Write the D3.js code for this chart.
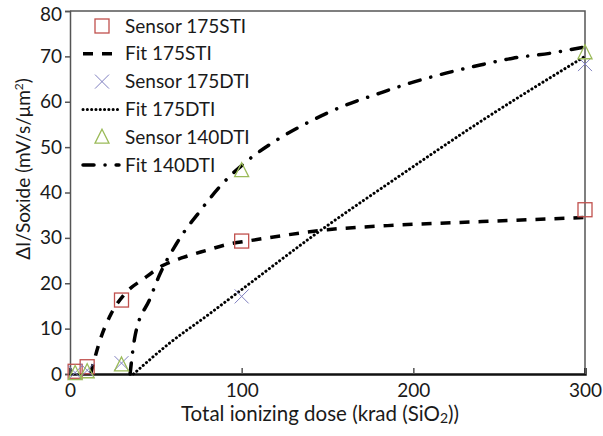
<!DOCTYPE html>
<html>
<head>
<meta charset="utf-8">
<script src="https://cdn.jsdelivr.net/npm/d3@7"></script>
<style>
  body { margin: 0; background: #fff; }
  svg { display: block; }
  text { font-family: Lato, "Noto Sans", sans-serif; fill: #1a1a1a; }
</style>
</head>
<body>
<svg id="chart" width="603" height="436"></svg>
<script>
// Measured sensor points: [dose (krad SiO2), ΔI/Soxide (mV/s/µm²)]
const sensor175STI = [[3, 0.6], [10, 1.6], [30, 16.3], [100, 29.3], [300, 36.2]];
const sensor175DTI = [[3, 0.3], [10, 0.8], [30, 2.4], [100, 17.1], [300, 68.3]];
const sensor140DTI = [[3, 0.1], [10, 0.5], [30, 2.0], [100, 44.8], [300, 70.8]];

// Fitted curves, sampled along each fit
const fit175STI = [[12, 0], [18, 8], [24, 13.3], [32, 17.7], [43, 21], [54, 23.9], [66, 25.7],
  [80, 27.3], [91, 28.5], [105, 29.4], [115, 30], [150, 31.8], [185, 32.7], [240, 33.6], [300, 34.5]];
const fit175DTI = [[37, 0], [58, 6.8], [80, 12.9], [100, 18.6], [144, 31.1],
  [191, 43.4], [239, 55.6], [300, 70]];
const fit140DTI = [[35, 0], [38, 8.6], [46.6, 16.6], [52, 21.7], [62, 28.7], [67, 31.6], [76, 36],
  [80, 38], [89, 42], [103, 46.9], [121, 51.7], [140, 55.7], [159, 59], [180.5, 61.9], [198, 64.1],
  [219, 66.3], [239, 68.1], [258, 69.6], [280, 70.7], [300, 72.1]];

const xTicks = [0, 100, 200, 300];
const yTicks = [0, 10, 20, 30, 40, 50, 60, 70, 80];

const legendNames = ["Sensor 175STI", "Fit 175STI", "Sensor 175DTI", "Fit 175DTI", "Sensor 140DTI", "Fit 140DTI"];

const svg = d3.select("#chart");
const margin = { left: 70, right: 18, top: 11, bottom: 62 };
const W = 603, H = 436;

const x = d3.scaleLinear().domain([0, 300]).range([margin.left, W - margin.right]);
const y = d3.scaleLinear().domain([0, 80]).range([H - margin.bottom, margin.top]);

const red = "#c0504d", purple = "#8080c0", green = "#9bbb59";
const fontSize = 19;

// Plot frame (top and right sides)
svg.append("path")
  .attr("d", `M${x(0)},${y(80)}H${x(300)}V${y(0)}`)
  .attr("fill", "none").attr("stroke", "#555").attr("stroke-width", 1.5);

// Y axis: ticks pointing outward
const yAxis = svg.append("g").attr("transform", `translate(${x(0)},0)`)
  .call(d3.axisLeft(y).tickValues(yTicks).tickSize(5).tickPadding(3).tickFormat(d3.format("d")));
yAxis.select(".domain").attr("stroke", "#555").attr("stroke-width", 1.5);
yAxis.selectAll(".tick line").attr("stroke", "#555").attr("stroke-width", 1.5);
yAxis.selectAll("text").style("font-size", fontSize + "px").style("font-family", "Lato, sans-serif")
  .attr("fill", "#1a1a1a")
  .attr("dy", d => d === 80 ? "0.5em" : "0.32em");

// X axis: ticks pointing inward
const xAxis = svg.append("g").attr("transform", `translate(0,${y(0)})`)
  .call(d3.axisBottom(x).tickValues(xTicks).tickSize(-6).tickPadding(10).tickFormat(d3.format("d")));
xAxis.select(".domain").attr("stroke", "#111").attr("stroke-width", 2.5);
xAxis.selectAll(".tick line").attr("stroke", "#555").attr("stroke-width", 1.5);
xAxis.selectAll("text").style("font-size", fontSize + "px").style("font-family", "Lato, sans-serif").attr("fill", "#1a1a1a");

// Axis titles
const xt = svg.append("text").attr("x", 320).attr("y", 421).attr("text-anchor", "middle")
  .style("font-size", "20.5px");
xt.append("tspan").text("Total ionizing dose (krad (SiO");
xt.append("tspan").text("2").style("font-size", "14px").attr("dy", 2);
xt.append("tspan").text("))").attr("dy", -2);

const yt = svg.append("text").attr("transform", "translate(30,169) rotate(-90)")
  .attr("text-anchor", "middle").style("font-size", fontSize + "px");
yt.append("tspan").text("ΔI/Soxide (mV/s/μm");
yt.append("tspan").text("2").style("font-size", "12px").attr("dy", -7);
yt.append("tspan").text(")").attr("dy", 7);

// Fit lines
const line = d3.line().x(d => x(d[0])).y(d => y(d[1])).curve(d3.curveMonotoneX);
const styles = {
  dash: { dash: "10,9", cap: "butt", w: 3.5 },
  dot: { dash: "0.1,4.2", cap: "round", w: 3 },
  dashdot: { dash: "11,11,0.1,11", cap: "round", w: 3.5 }
};
function drawFit(data, s) {
  svg.append("path").datum(data).attr("d", line)
    .attr("fill", "none").attr("stroke", "#000")
    .attr("stroke-width", s.w).attr("stroke-dasharray", s.dash).attr("stroke-linecap", s.cap);
}
drawFit(fit175STI, styles.dash);
drawFit(fit175DTI, styles.dot);
drawFit(fit140DTI, styles.dashdot);

// Marker shapes
function square(g, cx, cy) {
  g.append("rect").attr("x", cx - 7).attr("y", cy - 7).attr("width", 14).attr("height", 14)
    .attr("fill", "none").attr("stroke", red).attr("stroke-width", 1.3);
}
function cross(g, cx, cy) {
  g.append("path").attr("d", `M${cx - 7},${cy - 7}L${cx + 7},${cy + 7}M${cx - 7},${cy + 7}L${cx + 7},${cy - 7}`)
    .attr("fill", "none").attr("stroke", purple).attr("stroke-width", 1);
}
function triangle(g, cx, cy) {
  g.append("path").attr("d", `M${cx},${cy - 8}L${cx + 7},${cy + 6}L${cx - 7},${cy + 6}Z`)
    .attr("fill", "none").attr("stroke", green).attr("stroke-width", 1.3);
}

const marks = svg.append("g");
sensor175STI.forEach(d => square(marks, x(d[0]), y(d[1])));
sensor175DTI.forEach(d => cross(marks, x(d[0]), y(d[1])));
sensor140DTI.forEach(d => triangle(marks, x(d[0]), y(d[1])));

// Legend
const leg = svg.append("g");
const legY0 = 26, legStep = 27.8, symX = 102, lineX0 = 83, lineX1 = 119, textX = 125;
legendNames.forEach((name, i) => {
  const cy = legY0 + i * legStep;
  if (i === 0) square(leg, symX, cy);
  if (i === 2) cross(leg, symX, cy);
  if (i === 4) triangle(leg, symX, cy);
  if (i === 1 || i === 3 || i === 5) {
    const s = i === 1 ? styles.dash : i === 3 ? styles.dot : styles.dashdot;
    leg.append("line").attr("x1", lineX0).attr("x2", lineX1).attr("y1", cy).attr("y2", cy)
      .attr("stroke", "#000").attr("stroke-width", s.w).attr("stroke-dasharray", s.dash)
      .attr("stroke-linecap", s.cap);
  }
  leg.append("text").attr("x", textX).attr("y", cy).attr("dy", "0.35em")
    .style("font-size", fontSize + "px").text(name);
});
</script>
</body>
</html>
